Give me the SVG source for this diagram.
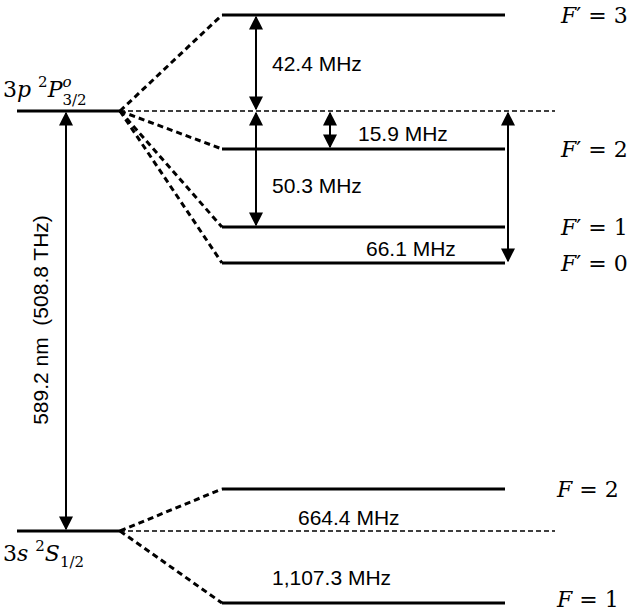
<svg xmlns="http://www.w3.org/2000/svg" width="642" height="613" viewBox="0 0 642 613">
<defs>
<marker id="ah" viewBox="0 0 10 10" refX="9" refY="5" markerWidth="7" markerHeight="7" orient="auto-start-reverse"><path d="M0,0 L10,5 L0,10 z" fill="#000"/></marker>
<style>
.lv{stroke:#000;stroke-width:3;fill:none}
.ds{stroke:#000;stroke-width:3;stroke-dasharray:6,4;fill:none}
.dt{stroke:#000;stroke-width:1.3;stroke-dasharray:5,3;fill:none}
.ar{stroke:#000;stroke-width:2;fill:none;marker-start:url(#ah);marker-end:url(#ah)}
.t{font-family:"Liberation Sans",Arial,sans-serif;font-size:21px;fill:#000}
.m{font-family:"DejaVu Serif","Liberation Serif",serif;font-size:22px;fill:#000}
.i{font-style:italic}
</style>
</defs>
<g id="levels">
<g id="P32"><line class="lv" x1="17" y1="111" x2="120" y2="111"/><text class="m" x="3" y="97" font-size="24">3<tspan class="i">p</tspan> <tspan font-size="15" dy="-10">2</tspan><tspan class="i" dy="10">P</tspan><tspan class="i" font-size="15" dy="-10">o</tspan><tspan font-size="15" dx="-9" dy="18">3/2</tspan></text></g>
<g id="F3"><line class="lv" x1="222" y1="15" x2="505" y2="15"/><text class="m" x="561" y="23"><tspan class="i">F</tspan>′ = 3</text></g>
<g id="F2p"><line class="lv" x1="222" y1="149" x2="505" y2="149"/><text class="m" x="561" y="157"><tspan class="i">F</tspan>′ = 2</text></g>
<g id="F1p"><line class="lv" x1="222" y1="227" x2="505" y2="227"/><text class="m" x="561" y="235"><tspan class="i">F</tspan>′ = 1</text></g>
<g id="F0p"><line class="lv" x1="222" y1="263" x2="505" y2="263"/><text class="m" x="561" y="271"><tspan class="i">F</tspan>′ = 0</text></g>
<g id="S12"><line class="lv" x1="17" y1="531" x2="120" y2="531"/><text class="m" x="3" y="561" font-size="24">3<tspan class="i">s</tspan> <tspan font-size="15" dy="-10">2</tspan><tspan class="i" dy="10">S</tspan><tspan font-size="15" dy="6">1/2</tspan></text></g>
<g id="F2"><line class="lv" x1="222" y1="489" x2="505" y2="489"/><text class="m" x="557" y="497"><tspan class="i">F</tspan> = 2</text></g>
<g id="F1"><line class="lv" x1="222" y1="603" x2="505" y2="603"/><text class="m" x="557" y="607"><tspan class="i">F</tspan> = 1</text></g>
</g>
<g id="connectors">
<line class="dt" x1="120" y1="111" x2="555" y2="111"/>
<line class="dt" x1="120" y1="531" x2="555" y2="531"/>
<line class="ds" x1="120" y1="111" x2="222" y2="15"/>
<line class="ds" x1="120" y1="111" x2="222" y2="149"/>
<line class="ds" x1="120" y1="111" x2="222" y2="227"/>
<line class="ds" x1="120" y1="111" x2="222" y2="263"/>
<line class="ds" x1="120" y1="531" x2="222" y2="489"/>
<line class="ds" x1="120" y1="531" x2="222" y2="603"/>
<line class="ar" x1="256" y1="17" x2="256" y2="109"/>
<line class="ar" x1="256" y1="113" x2="256" y2="225"/>
<line class="ar" x1="330" y1="113" x2="330" y2="147"/>
<line class="ar" x1="508" y1="113" x2="508" y2="261"/>
<line class="ar" x1="66" y1="113" x2="66" y2="529"/>
</g>
<g id="labels">
<text class="t" x="272" y="71">42.4 MHz</text>
<text class="t" x="358" y="141">15.9 MHz</text>
<text class="t" x="272" y="193">50.3 MHz</text>
<text class="t" x="366" y="256">66.1 MHz</text>
<text class="t" x="298" y="525">664.4 MHz</text>
<text class="t" x="272" y="585">1,107.3 MHz</text>
<text class="t" transform="translate(48,320) rotate(-90)" text-anchor="middle" font-size="24" xml:space="preserve">589.2 nm  (508.8 THz)</text>
</g>
</svg>
